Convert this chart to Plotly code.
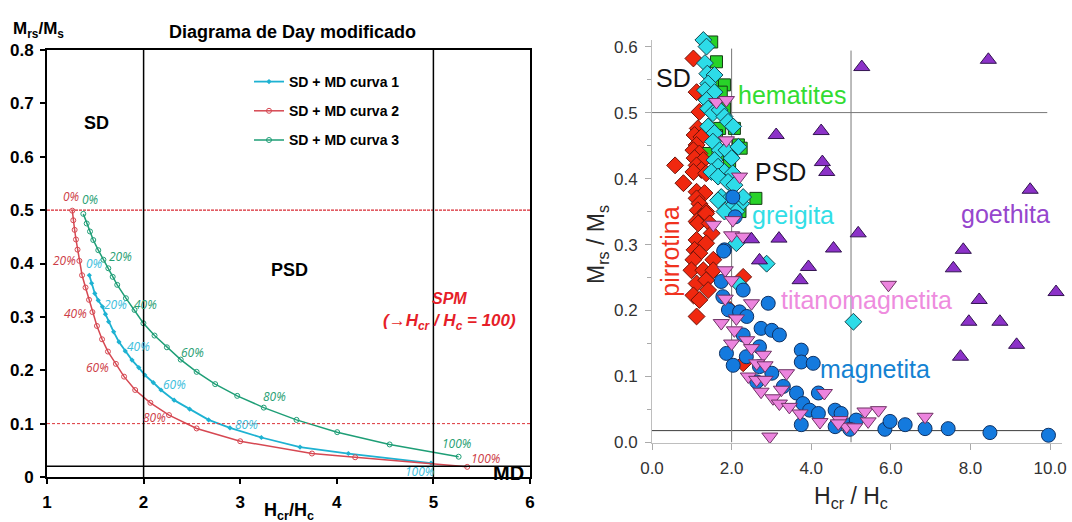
import plotly.graph_objects as go

# ---------------- Left chart data (Day diagram curves) ----------------
c1_x = [1.438, 1.462, 1.495, 1.53, 1.574, 1.605, 1.638, 1.69, 1.745, 1.81, 1.88, 1.95, 2.013,
        2.10, 2.18, 2.316, 2.477, 2.673, 2.894, 3.219, 3.619, 4.12, 4.975]
c1_y = [0.378, 0.363, 0.344, 0.331, 0.319, 0.305, 0.291, 0.272, 0.253, 0.236, 0.219, 0.205, 0.191,
        0.177, 0.163, 0.144, 0.127, 0.107, 0.092, 0.074, 0.056, 0.044, 0.026]

c2_x = [1.262, 1.272, 1.286, 1.300, 1.316, 1.335, 1.363, 1.399, 1.435, 1.470, 1.517, 1.570, 1.631,
        1.713, 1.798, 1.913, 2.07, 2.263, 2.549, 3.0, 3.743, 4.19, 5.35]
c2_y = [0.499, 0.481, 0.463, 0.445, 0.426, 0.405, 0.378, 0.355, 0.332, 0.309, 0.283, 0.258, 0.235,
        0.212, 0.188, 0.163, 0.139, 0.116, 0.091, 0.067, 0.044, 0.037, 0.019]

c3_x = [1.376, 1.411, 1.445, 1.479, 1.531, 1.584, 1.635, 1.68, 1.727, 1.817, 1.906, 1.998, 2.113,
        2.241, 2.384, 2.549, 2.741, 2.969, 3.244, 3.583, 4.004, 4.547, 5.261]
c3_y = [0.493, 0.475, 0.460, 0.444, 0.425, 0.407, 0.391, 0.375, 0.360, 0.335, 0.313, 0.288, 0.265,
        0.243, 0.220, 0.197, 0.174, 0.152, 0.130, 0.107, 0.084, 0.061, 0.038]

pct_labels = ["0%", "20%", "40%", "60%", "80%", "100%"]
c1_lab_x = [1.485, 1.709, 1.942, 2.315, 3.066, 4.851]
c1_lab_y = [0.400, 0.324, 0.245, 0.174, 0.0993, 0.0099]
c2_lab_x = [1.244, 1.186, 1.292, 1.524, 2.108, 5.54]
c2_lab_y = [0.525, 0.406, 0.307, 0.205, 0.112, 0.0352]
c3_lab_x = [1.448, 1.756, 2.02, 2.505, 3.35, 5.244]
c3_lab_y = [0.519, 0.413, 0.324, 0.233, 0.150, 0.0631]

left_xticks = [1, 2, 3, 4, 5, 6]
left_yticks = [0, 0.1, 0.2, 0.3, 0.4, 0.5, 0.6, 0.7, 0.8]
left_yticktext = ["0", "0.1", "0.2", "0.3", "0.4", "0.5", "0.6", "0.7", "0.8"]

# ---------------- Right chart data (mineral scatter) ----------------
pirr_x = [1.04, 1.12, 1.19, 1.15, 1.07, 1.24, 1.12, 1.04, 1.19, 1.07, 1.29, 1.12, 0.58, 1.24, 1.04,
          1.36, 0.79, 1.12, 1.32, 1.12, 1.19, 1.15, 1.36, 1.24, 1.12, 1.36, 1.16, 1.45, 1.50, 1.12,
          1.36, 1.07, 1.19, 1.04, 1.54, 0.99, 1.29, 1.54, 1.12, 1.36, 1.41, 1.04, 1.19, 1.12, 2.29,
          1.96, 2.29]
pirr_y = [0.582, 0.531, 0.501, 0.476, 0.466, 0.463, 0.451, 0.443, 0.438, 0.431, 0.428, 0.420, 0.420,
          0.413, 0.410, 0.408, 0.393, 0.380, 0.378, 0.370, 0.362, 0.352, 0.350, 0.342, 0.335, 0.347,
          0.332, 0.332, 0.317, 0.307, 0.302, 0.292, 0.287, 0.277, 0.277, 0.261, 0.261, 0.261, 0.241,
          0.246, 0.231, 0.223, 0.216, 0.191, 0.251, 0.201, 0.120]

hem_x = [1.50, 1.62, 1.54, 1.82, 1.74, 1.82, 1.70, 2.07, 2.17, 1.36, 1.82, 2.24, 2.61, 2.21, 1.95, 1.62]
hem_y = [0.607, 0.577, 0.547, 0.542, 0.531, 0.506, 0.476, 0.476, 0.451, 0.438, 0.436, 0.446, 0.370,
         0.350, 0.425, 0.465]

greig_x = [1.29, 1.37, 1.33, 1.39, 1.57, 1.41, 1.33, 1.57, 1.37, 1.41, 1.53, 1.70, 1.82, 1.91, 1.41,
           2.04, 1.57, 1.53, 1.70, 1.87, 2.17, 2.00, 1.57, 1.66, 1.49, 1.82, 1.66, 2.03, 1.91, 2.07,
           1.74, 1.95, 1.66, 2.24, 2.00, 2.29, 2.12, 1.82, 2.12, 2.88, 2.20, 5.06]
greig_y = [0.610, 0.600, 0.575, 0.559, 0.557, 0.544, 0.534, 0.531, 0.519, 0.506, 0.499, 0.504, 0.494,
           0.486, 0.479, 0.479, 0.469, 0.456, 0.443, 0.443, 0.448, 0.431, 0.428, 0.418, 0.410, 0.410,
           0.403, 0.408, 0.395, 0.390, 0.372, 0.370, 0.367, 0.362, 0.357, 0.372, 0.350, 0.350, 0.302,
           0.271, 0.239, 0.183]

mag_x = [1.82, 1.74, 2.29, 1.78, 2.92, 1.92, 2.20, 2.38, 2.74, 3.01, 3.20, 2.29, 2.70, 3.75, 1.87,
         2.37, 3.75, 4.05, 2.04, 2.70, 3.01, 2.63, 3.30, 3.63, 4.18, 3.79, 3.96, 4.18, 4.60, 4.75,
         3.75, 4.60, 5.00, 5.13, 4.97, 5.85, 5.98, 6.36, 6.86, 7.44, 8.49, 9.96, 2.03, 2.09, 1.80]
mag_y = [0.292, 0.244, 0.231, 0.221, 0.211, 0.201, 0.198, 0.191, 0.173, 0.170, 0.163, 0.163, 0.145,
         0.140, 0.135, 0.130, 0.122, 0.120, 0.117, 0.115, 0.105, 0.092, 0.085, 0.075, 0.075, 0.059,
         0.049, 0.044, 0.049, 0.044, 0.027, 0.024, 0.027, 0.034, 0.020, 0.020, 0.032, 0.027, 0.021,
         0.021, 0.015, 0.011, 0.372, 0.342, 0.290]

titan_x = [1.62, 1.87, 1.87, 2.20, 2.03, 1.54, 2.00, 2.29, 1.84, 2.00, 1.84, 2.50, 2.12, 1.74, 2.07,
           2.00, 2.38, 2.50, 2.80, 2.63, 2.84, 2.42, 2.63, 2.84, 3.38, 2.74, 3.25, 3.04, 3.20, 3.45,
           3.72, 4.33, 4.22, 4.72, 4.89, 5.09, 2.96, 5.35, 5.69, 5.43, 6.86, 4.68, 5.94]
titan_y = [0.516, 0.519, 0.458, 0.403, 0.337, 0.330, 0.314, 0.312, 0.261, 0.246, 0.218, 0.211, 0.188,
           0.181, 0.170, 0.150, 0.155, 0.143, 0.133, 0.120, 0.117, 0.100, 0.095, 0.095, 0.105, 0.077,
           0.080, 0.067, 0.059, 0.054, 0.044, 0.075, 0.031, 0.034, 0.024, 0.023, 0.009, 0.047, 0.049,
           0.032, 0.039, 0.029, 0.239]

goe_x = [5.27, 8.45, 3.12, 4.25, 4.28, 4.39, 9.50, 5.18, 2.50, 3.19, 4.56, 7.82, 2.70, 3.93, 3.72,
         7.57, 10.15, 8.22, 7.96, 8.74, 9.16, 7.75]
goe_y = [0.569, 0.580, 0.466, 0.472, 0.425, 0.410, 0.383, 0.317, 0.308, 0.309, 0.294, 0.292, 0.276,
         0.266, 0.246, 0.264, 0.228, 0.216, 0.183, 0.183, 0.148, 0.130]

right_xticks = [0, 2, 4, 6, 8, 10]
right_xticktext = ["0.0", "2.0", "4.0", "6.0", "8.0", "10.0"]
right_yticks = [0, 0.1, 0.2, 0.3, 0.4, 0.5, 0.6]
right_yticktext = ["0.0", "0.1", "0.2", "0.3", "0.4", "0.5", "0.6"]

# ---------------- Colours ----------------
C1 = "rgb(30,178,210)"
C2 = "rgb(214,72,82)"
C3 = "rgb(30,158,118)"
C1T = "rgb(60,190,220)"
C2T = "rgb(205,60,70)"
C3T = "rgb(40,160,115)"

fig = go.Figure()

# Left curves
fig.add_trace(go.Scatter(x=c1_x, y=c1_y, mode="lines+markers", name="SD + MD curva 1",
                         line=dict(color=C1, width=1.8), legendgroup="g1",
                         marker=dict(symbol="diamond", size=4, color=C1),
                         xaxis="x", yaxis="y"))
fig.add_trace(go.Scatter(x=c2_x, y=c2_y, mode="lines+markers", name="SD + MD curva 2",
                         line=dict(color=C2, width=1.5), legendgroup="g2",
                         marker=dict(symbol="circle-open", size=5, color=C2, line=dict(width=1)),
                         xaxis="x", yaxis="y"))
fig.add_trace(go.Scatter(x=c3_x, y=c3_y, mode="lines+markers", name="SD + MD curva 3",
                         line=dict(color=C3, width=1.5), legendgroup="g3",
                         marker=dict(symbol="circle-open", size=5, color=C3, line=dict(width=1)),
                         xaxis="x", yaxis="y"))

# Right scatter series
def add_sc(xs, ys, sym, fill, edge, size=13):
    fig.add_trace(go.Scatter(x=xs, y=ys, mode="markers", showlegend=False, cliponaxis=False,
                             marker=dict(symbol=sym, size=size, color=fill,
                                         line=dict(color=edge, width=1)),
                             xaxis="x2", yaxis="y2"))

add_sc(hem_x, hem_y, "square", "rgb(40,210,40)", "rgb(20,60,20)", 12)
add_sc(pirr_x, pirr_y, "diamond", "rgb(240,40,15)", "rgb(110,20,10)", 13)
add_sc(greig_x, greig_y, "diamond", "rgb(45,220,232)", "rgb(20,70,80)", 13)
add_sc(mag_x, mag_y, "circle", "rgb(20,122,222)", "rgb(15,50,100)", 14)
add_sc(titan_x, titan_y, "triangle-down", "rgb(236,132,222)", "rgb(110,50,100)", 14)
add_sc(goe_x, goe_y, "triangle-up", "rgb(140,50,200)", "rgb(50,20,80)", 14)

shapes = []
# Left reference lines
shapes += [
    dict(type="line", xref="x", yref="y", x0=1, x1=6, y0=0.5, y1=0.5,
         line=dict(color="rgb(215,40,50)", width=1.4, dash="3px,1px")),
    dict(type="line", xref="x", yref="y", x0=1, x1=6, y0=0.1, y1=0.1,
         line=dict(color="rgb(220,50,55)", width=1, dash="3px,2px")),
    dict(type="line", xref="x", yref="y", x0=1, x1=6, y0=0.02, y1=0.02,
         line=dict(color="black", width=1.5)),
    dict(type="line", xref="x", yref="y", x0=2, x1=2, y0=0, y1=0.8,
         line=dict(color="black", width=1.5)),
    dict(type="line", xref="x", yref="y", x0=5, x1=5, y0=0, y1=0.8,
         line=dict(color="black", width=1.5)),
]
# Right reference lines
shapes += [
    dict(type="line", xref="x2", yref="y2", x0=0, x1=9.93, y0=0.5, y1=0.5,
         line=dict(color="rgb(120,120,120)", width=1), layer="below"),
    dict(type="line", xref="x2", yref="y2", x0=0, x1=9.93, y0=0.018, y1=0.018,
         line=dict(color="rgb(60,60,60)", width=1), layer="below"),
    dict(type="line", xref="x2", yref="y2", x0=2, x1=2, y0=0, y1=0.597,
         line=dict(color="rgb(120,120,120)", width=1), layer="below"),
    dict(type="line", xref="x2", yref="y2", x0=5, x1=5, y0=0, y1=0.594,
         line=dict(color="rgb(120,120,120)", width=1), layer="below"),
]

ann = []
BF = "Liberation Sans, Arial, sans-serif"

def atext(t, x, y, xref, yref, size, col, angle=0, family=BF):
    ann.append(dict(text=t, x=x, y=y, xref=xref, yref=yref, showarrow=False, textangle=angle,
                    xanchor="center", yanchor="middle",
                    font=dict(family=family, size=size, color=col)))

# Left texts
atext("<b>Diagrama de Day modificado</b>", 292/1072, 1-32/522, "paper", "paper", 18, "black")
atext("<b>M<sub>rs</sub>/M<sub>s</sub></b>", 38/1072, 1-30/522, "paper", "paper", 17, "black")
atext("<b>H<sub>cr</sub>/H<sub>c</sub></b>", 289/1072, 1-511/522, "paper", "paper", 18, "black")
atext("<b>SD</b>", 1.51, 0.663, "x", "y", 18, "black")
atext("<b>PSD</b>", 3.51, 0.387, "x", "y", 18, "black")
atext("<b>MD</b>", 5.78, 0.008, "x", "y", 20, "black")
atext("<b><i>SPM</i></b>", 5.17, 0.334, "x", "y", 16, "rgb(230,30,40)")
atext("<b><i>(\u2192H<sub>cr</sub> / H<sub>c</sub> = 100)</i></b>", 5.17, 0.29, "x", "y", 17,
      "rgb(230,30,40)")
for lx, ly, col in ((c1_lab_x, c1_lab_y, C1T), (c2_lab_x, c2_lab_y, C2T), (c3_lab_x, c3_lab_y, C3T)):
    for t, xx, yy in zip(pct_labels, lx, ly):
        atext("<i>" + t + "</i>", xx, yy, "x", "y", 12, col, family="Open Sans, sans-serif")

# Right texts
RF = "Liberation Sans, Arial, sans-serif"
atext("SD", 0.54, 0.552, "x2", "y2", 25, "rgb(20,20,20)", family=RF)
atext("hematites", 3.51, 0.5265, "x2", "y2", 25, "rgb(50,220,50)", family=RF)
atext("PSD", 3.22, 0.41, "x2", "y2", 25, "rgb(20,20,20)", family=RF)
atext("greigita", 3.55, 0.3447, "x2", "y2", 25, "rgb(50,222,230)", family=RF)
atext("goethita", 8.87, 0.347, "x2", "y2", 25, "rgb(150,70,205)", family=RF)
atext("pirrotina", 0.45, 0.289, "x2", "y2", 25, "rgb(240,50,30)", angle=-90, family=RF)
atext("titanomagnetita", 5.39, 0.216, "x2", "y2", 25, "rgb(238,140,222)", family=RF)
atext("magnetita", 5.60, 0.112, "x2", "y2", 25, "rgb(20,130,210)", family=RF)
atext("MD", 9.2, -0.001, "x2", "y2", 25, "rgb(20,20,20)", family=RF)
atext("M<sub>rs</sub> / M<sub>s</sub>", 598/1072, 1-245/522, "paper", "paper", 23,
      "rgb(40,40,40)", angle=-90, family=RF)
atext("H<sub>cr</sub> / H<sub>c</sub>", 851/1072, 1-497/522, "paper", "paper", 23,
      "rgb(40,40,40)", family=RF)

fig.update_layout(
    width=1072, height=522, margin=dict(l=0, r=0, t=0, b=0, autoexpand=False),
    paper_bgcolor="white", plot_bgcolor="white",
    shapes=shapes, annotations=ann,
    showlegend=True,
    legend=dict(x=249/1072, y=1-66/522, xanchor="left", yanchor="top", bgcolor="rgba(0,0,0,0)",
                font=dict(family=BF, size=14, color="black", weight="bold"),
                tracegroupgap=8, itemwidth=30),
    xaxis=dict(domain=[47/1072, 530/1072], range=[1, 6], tickvals=left_xticks,
               showline=True, mirror=True, linecolor="black", linewidth=2, showgrid=False,
               zeroline=False, ticks="outside", ticklen=5, tickwidth=2, tickcolor="black",
               ticklabelstandoff=4, automargin=False,
               tickfont=dict(family=BF, size=17, color="black", weight="bold"), anchor="y"),
    yaxis=dict(domain=[45/522, 472/522], range=[0, 0.8], tickvals=left_yticks,
               ticktext=left_yticktext, automargin=False, ticklabelstandoff=3,
               showline=True, mirror=True, linecolor="black", linewidth=2, showgrid=False,
               zeroline=False, ticks="outside", ticklen=5, tickwidth=2, tickcolor="black",
               tickfont=dict(family=BF, size=17, color="black", weight="bold"), anchor="x"),
    xaxis2=dict(domain=[652/1072, 1062/1072], range=[0, 10.3], tickvals=right_xticks,
                ticktext=right_xticktext, showline=True, linecolor="rgb(190,190,190)", linewidth=1,
                showgrid=False, zeroline=False, ticks="outside", ticklen=6, automargin=False,
                tickcolor="rgb(170,170,170)", anchor="y2", ticklabelstandoff=4,
                tickfont=dict(family=RF, size=17, color="rgb(50,50,50)")),
    yaxis2=dict(domain=[79.5/522, 482/522], range=[0, 0.61], tickvals=right_yticks,
                ticktext=right_yticktext, showline=True, linecolor="rgb(190,190,190)", linewidth=1,
                showgrid=False, zeroline=False, ticks="outside", ticklen=6, automargin=False,
                tickcolor="rgb(170,170,170)", anchor="x2", ticklabelstandoff=4,
                minor=dict(tickvals=[0.05, 0.15, 0.25, 0.35, 0.45, 0.55], ticks="outside",
                           ticklen=4, tickcolor="rgb(170,170,170)"),
                tickfont=dict(family=RF, size=17, color="rgb(50,50,50)")),
)

fig.write_html("out.html")
